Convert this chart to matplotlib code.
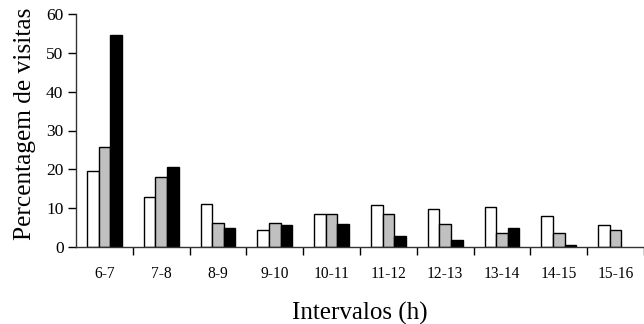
import matplotlib
matplotlib.use("Agg")
import matplotlib.pyplot as plt
import numpy as np

categories = ["6-7", "7-8", "8-9", "9-10", "10-11", "11-12", "12-13", "13-14", "14-15", "15-16"]
serie_branca = [19.5, 13.0, 11.2, 4.4, 8.6, 10.8, 9.8, 10.4, 8.1, 5.7]
serie_cinza = [25.7, 17.9, 6.3, 6.3, 8.6, 8.6, 5.9, 3.6, 3.6, 4.4]
serie_preta = [54.6, 20.7, 4.8, 5.7, 6.0, 2.9, 1.8, 4.8, 0.5, 0.0]
yticks = [0, 10, 20, 30, 40, 50, 60]

plt.rcParams['font.family'] = ['Liberation Serif', 'DejaVu Serif']

fig = plt.figure(figsize=(6.44, 3.24), dpi=100)
ax = fig.add_axes([76/644, 1-247/324, 1-76/644, (247-14)/324])

x = np.arange(len(categories))
w = 0.205
ax.bar(x - w, serie_branca, w, color="white", edgecolor="black", linewidth=1)
ax.bar(x, serie_cinza, w, color="#c0c0c0", edgecolor="black", linewidth=1)
ax.bar(x + w, [v if v > 0 else np.nan for v in serie_preta], w, color="black", edgecolor="black", linewidth=1)

ax.set_xlim(-0.5, 9.43)
ax.set_ylim(0, 60)
ax.set_yticks(yticks)
ax.set_xticks(x)
ax.set_xticklabels(categories, fontsize=11.2)
ax.set_xticks(np.arange(len(categories)) + 0.5, minor=True)
ax.tick_params(axis='x', which='major', length=0, pad=14)
ax.tick_params(axis='x', which='minor', length=6, width=1, direction='out')
ax.tick_params(axis='y', labelsize=12.5, length=6, width=1, direction='out', pad=3)

for s in ['top', 'right']:
    ax.spines[s].set_visible(False)
for s in ['left', 'bottom']:
    ax.spines[s].set_linewidth(1)
    ax.spines[s].set_color('#333333')

ax.set_ylabel("Percentagem de visitas", fontsize=18.3, va='center')
ax.yaxis.set_label_coords(-51/568, 0.53)
ax.set_xlabel("Intervalos (h)", fontsize=18, va='center')
ax.xaxis.set_label_coords(0.5, -66/233)

fig.savefig("out.png", dpi=100)
